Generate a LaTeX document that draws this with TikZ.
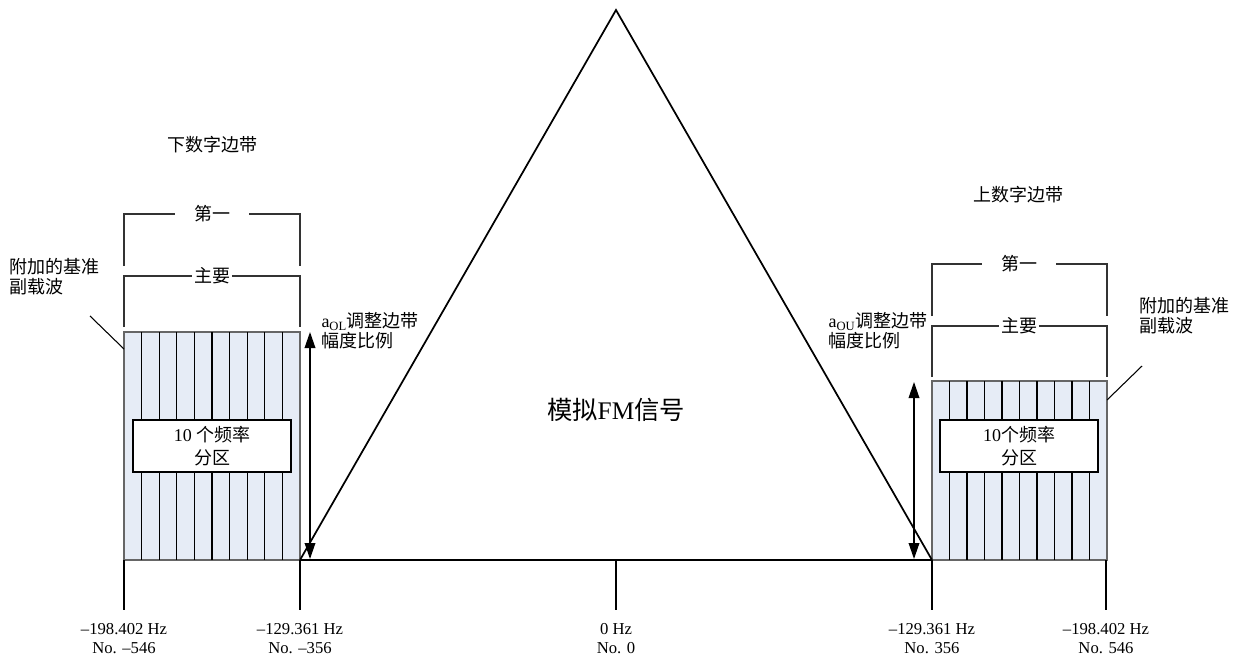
\documentclass[tikz,border=0pt]{standalone}
\usepackage{fontspec}
\setmainfont{Liberation Serif}
\newfontfamily\cjk{Noto Sans CJK SC}
\usetikzlibrary{arrows.meta}

\definecolor{bandfill}{RGB}{230,236,246}
\tikzset{every picture/.style={line width=0.75pt}}
\tikzset{
  band/.style={draw=black!60, line width=1pt, fill=bandfill},
  cell/.style={draw=black, line width=0.8pt},
  zonebox/.style={draw=black, fill=white, line width=0.8pt, minimum width=118.5pt, minimum height=39pt, align=center, inner sep=0pt, font=\fontsize{13.5}{17}\selectfont},
  brace/.style={draw=black!80, line width=1.5pt},
  bracetxt/.style={inner sep=0pt, font=\cjk\fontsize{13.5}{15}\selectfont},
  cjktxt/.style={inner sep=0.75pt, align=left, font=\cjk\fontsize{13.5}{15}\selectfont},
  tick/.style={draw=black, line width=1.2pt},
  ticktxt/.style={inner sep=0pt, align=center, font=\fontsize{12.5}{14.5}\selectfont},
  dbl/.style={draw=black, line width=1pt, {Triangle[length=12pt,width=8pt]}-{Triangle[length=12pt,width=8pt]}},
  lead/.style={draw=black, line width=0.8pt}
}
\newcommand{\ampsym}[1]{{\rmfamily a\textsubscript{#1}}}

\begin{document}
\begin{tikzpicture}[x=0.75pt,y=0.75pt,yscale=-1,xscale=1]
	\useasboundingbox (0,0) rectangle (1242,657);

	% Lower sideband
	\draw[band] (124,332) rectangle (300,560);
	\foreach \i in {1,...,9}
		\draw[cell] (124+17.6*\i,332) -- ++(0,228);
	\node[zonebox] (lzone) at (212,446) {10 {\cjk 个频率}\\{\cjk 分区}};

	% Upper sideband
	\draw[band] (932,381) rectangle (1107,560);
	\foreach \i in {1,...,9}
		\draw[cell] (932+17.5*\i,381) -- ++(0,179);
	\node[zonebox] (rzone) at (1019,446) {10{\cjk 个频率}\\{\cjk 分区}};

	% Brackets, lower
	\node[bracetxt, minimum width=55pt] (lfirst) at (212,214) {第一};
	\draw[brace] (124,266) |- (lfirst.west);
	\draw[brace] (lfirst.east) -| (300,266);
	\node[bracetxt, inner xsep=1pt] (lmain) at (212,276) {主要};
	\draw[brace] (124,327) |- (lmain.west);
	\draw[brace] (lmain.east) -| (300,327);

	% Brackets, upper
	\node[bracetxt, minimum width=55pt] (rfirst) at (1019,264) {第一};
	\draw[brace] (932,316) |- (rfirst.west);
	\draw[brace] (rfirst.east) -| (1107,316);
	\node[bracetxt, inner xsep=1pt] (rmain) at (1019,326) {主要};
	\draw[brace] (932,377) |- (rmain.west);
	\draw[brace] (rmain.east) -| (1107,377);

	% Text Node
	\node[cjktxt] (lband) at (212,145) {下数字边带};
	\node[cjktxt] (uband) at (1018,195) {上数字边带};
	\node[cjktxt, anchor=west] (lref) at (8,277) {附加的基准\\副载波};
	\node[cjktxt, anchor=west] (rref) at (1138,316) {附加的基准\\副载波};
	\node[cjktxt, anchor=west] (lamp) at (320,331) {\ampsym{OL}调整边带\\幅度比例};
	\node[cjktxt, anchor=east] (ramp) at (929,331) {\ampsym{OU}调整边带\\幅度比例};

	% Leaders to reference subcarriers
	\coordinate (lleadA) at (90,316);
	\coordinate (lleadB) at (124,349);
	\draw[lead] (lleadA) -- (lleadB);
	\coordinate (rleadA) at (1142,366);
	\coordinate (rleadB) at (1107,400);
	\draw[lead] (rleadA) -- (rleadB);

	% Amplitude arrows
	\coordinate (lampT) at (310,332);
	\coordinate (lampB) at (310,559);
	\draw[dbl] (lampT) -- (lampB);
	\coordinate (rampT) at (914,382);
	\coordinate (rampB) at (914,559);
	\draw[dbl] (rampT) -- (rampB);

	% Analog FM triangle
	\coordinate (apex) at (616,10);
	\coordinate (lfoot) at (300,560);
	\coordinate (rfoot) at (932,560);
	\draw[line width=1.3pt, line join=miter] (lfoot) -- (apex) -- (rfoot);
	\draw[line width=2pt] (lfoot) -- (rfoot);
	\node[inner sep=0pt, font=\fontsize{19}{22}\selectfont] (fm) at (616,410) {{\cjk 模拟}FM{\cjk 信号}};

	% Frequency ticks
	\foreach \x/\hz/\no [count=\k] in {124/{--198.402 Hz}/{No. --546}, 300/{--129.361 Hz}/{No. --356}, 616/{0 Hz}/{No. 0}, 932/{--129.361 Hz}/{No. 356}, 1106/{--198.402 Hz}/{No. 546}} {
		\draw[tick] (\x,560) -- (\x,610);
		\node[ticktxt, anchor=north] (freq\k) at (\x,623) {\hz\\\no};
	}
\end{tikzpicture}
\end{document}
